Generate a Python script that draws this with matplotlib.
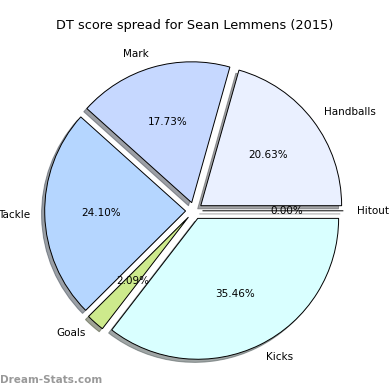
import matplotlib
matplotlib.use('Agg')
import matplotlib.pyplot as plt

labels = ['Handballs', 'Mark', 'Tackle', 'Goals', 'Kicks', 'Hitout']
values = [20.63, 17.73, 24.10, 2.09, 35.46, 0.00]
colors = ['#eaf0ff', '#c6d8ff', '#b5d6ff', '#cdea8c', '#d9ffff', '#ffffff']
explode = [0.06] * len(values)

fig = plt.figure(figsize=(3.9, 3.9), dpi=100)
ax = fig.add_axes([0.046, 0.008, 0.903, 0.903])
wedges, texts, autotexts = ax.pie(values, labels=labels, colors=colors, explode=explode,
                                  autopct='%1.2f%%', shadow={'ox': -0.016, 'oy': -0.016},
                                  startangle=0,
                                  wedgeprops={'edgecolor': 'black', 'linewidth': 0.7},
                                  textprops={'fontsize': 7.5})
ax.set_xlim(-1.25, 1.25)
ax.set_ylim(-1.25, 1.25)
ax.set_aspect('equal')

fig.text(0.5, 0.935, 'DT score spread for Sean Lemmens (2015)', ha='center', va='center', fontsize=9.3)
fig.text(0.0, 0.026, 'Dream-Stats.com', ha='left', va='center', fontsize=7.5,
         color='#999999', fontweight='bold')

fig.savefig('out.png', dpi=100)
